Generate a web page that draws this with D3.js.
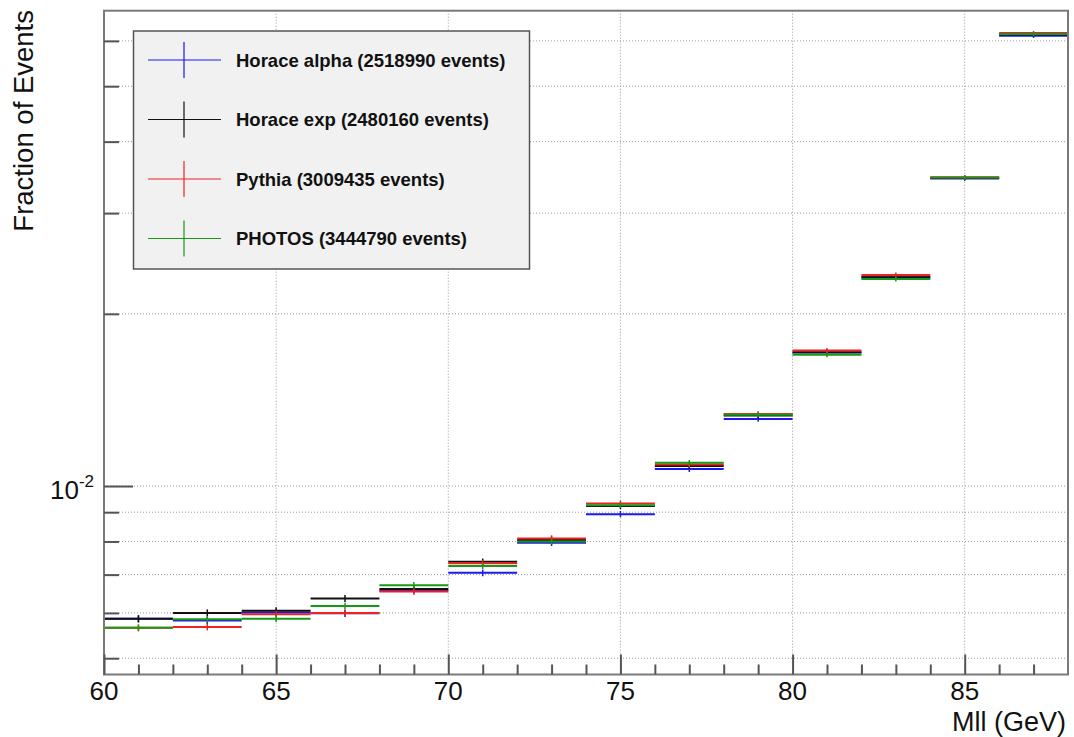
<!DOCTYPE html>
<html>
<head>
<meta charset="utf-8">
<script src="https://cdn.jsdelivr.net/npm/d3@7"></script>
<style>
  html, body { margin: 0; padding: 0; background: #fff; }
  svg { display: block; font-family: "Liberation Sans", Arial, Helvetica, sans-serif; }
</style>
</head>
<body>
<svg id="chart" width="1074" height="737"></svg>
<script>
// Dilepton invariant mass, fraction of events per 2 GeV bin
const binEdges = [60, 62, 64, 66, 68, 70, 72, 74, 76, 78, 80, 82, 84, 86, 88];

const seriesNames = ["Horace alpha", "Horace exp", "Pythia", "PHOTOS"];
const seriesEvents = [2518990, 2480160, 3009435, 3444790];
const seriesColors = ["#1a1aee", "#111111", "#ee2222", "#169a16"];

const horaceAlpha = [0.00586, 0.00582, 0.00601, 0.00599, 0.00657, 0.00705, 0.00796, 0.00893, 0.01071, 0.01310, 0.01712, 0.02318, 0.03450, 0.06126];
const horaceExp   = [0.00586, 0.00600, 0.00605, 0.00636, 0.00661, 0.00737, 0.00805, 0.00923, 0.01084, 0.01328, 0.01713, 0.02317, 0.03455, 0.06156];
const pythia      = [0.00565, 0.00567, 0.00597, 0.00600, 0.00654, 0.00733, 0.00810, 0.00932, 0.01090, 0.01336, 0.01725, 0.02338, 0.03466, 0.06194];
const photos      = [0.00565, 0.00585, 0.00586, 0.00617, 0.00671, 0.00725, 0.00800, 0.00926, 0.01098, 0.01333, 0.01697, 0.02301, 0.03462, 0.06168];
const seriesValues = [horaceAlpha, horaceExp, pythia, photos];

const xMajorTicks = [60, 65, 70, 75, 80, 85];
const xMinorTicks = d3.range(61, 88, 1).filter(v => v % 5 !== 0);
const yMajorTicks = [0.01];
const yMinorTicks = [0.005, 0.006, 0.007, 0.008, 0.009, 0.02, 0.03, 0.04, 0.05, 0.06];

const xTitle = "Mll (GeV)";
const yTitle = "Fraction of Events";

const frame = { left: 104, right: 1068, top: 10.7, bottom: 674.5 };
const svg = d3.select("#chart");

const x = d3.scaleLinear().domain([60, 88]).range([frame.left, frame.right]);
const y = d3.scaleLog().domain([0.004683, 0.06776]).range([frame.bottom, frame.top]);

// grid
const grid = svg.append("g").attr("stroke", "#9a9a9a").attr("stroke-width", 1).attr("stroke-dasharray", "1,2");
grid.selectAll("line.gx").data(xMajorTicks.filter(v => v > 60)).join("line")
  .attr("x1", d => x(d)).attr("x2", d => x(d)).attr("y1", frame.top).attr("y2", frame.bottom);
grid.selectAll("line.gy").data(yMajorTicks.concat(yMinorTicks)).join("line")
  .attr("x1", frame.left).attr("x2", frame.right).attr("y1", d => y(d)).attr("y2", d => y(d));

// histograms with statistical error bars
const bins = d3.range(binEdges.length - 1).map(i => ({ lo: binEdges[i], hi: binEdges[i + 1] }));
seriesValues.forEach((vals, s) => {
  const g = svg.append("g").attr("stroke", seriesColors[s]).attr("fill", "none");
  const rows = bins.map((b, i) => {
    const v = vals[i];
    const err = Math.sqrt(v * seriesEvents[s]) / seriesEvents[s];
    return { lo: b.lo, hi: b.hi, mid: (b.lo + b.hi) / 2, v, err };
  });
  g.selectAll("line.h").data(rows).join("line")
    .attr("stroke-width", 2)
    .attr("x1", d => x(d.lo)).attr("x2", d => x(d.hi))
    .attr("y1", d => y(d.v)).attr("y2", d => y(d.v));
  g.selectAll("line.e").data(rows).join("line")
    .attr("stroke-width", 1.5)
    .attr("x1", d => x(d.mid)).attr("x2", d => x(d.mid))
    .attr("y1", d => y(d.v + d.err) - 1.5).attr("y2", d => y(d.v - d.err) + 1.5);
});

// frame
svg.append("rect")
  .attr("x", frame.left).attr("y", frame.top)
  .attr("width", frame.right - frame.left).attr("height", frame.bottom - frame.top)
  .attr("fill", "none").attr("stroke", "#7a7a7a").attr("stroke-width", 2);

// axes (ticks drawn inward, ROOT style)
const xAxisMajor = d3.axisTop(x).tickValues(xMajorTicks).tickSize(20).tickFormat("");
const xAxisMinor = d3.axisTop(x).tickValues(xMinorTicks).tickSize(10).tickFormat("");
const yAxisMajor = d3.axisRight(y).tickValues(yMajorTicks).tickSize(29).tickFormat("");
const yAxisMinor = d3.axisRight(y).tickValues(yMinorTicks).tickSize(15).tickFormat("");

[xAxisMajor, xAxisMinor].forEach(ax => {
  const g = svg.append("g").attr("transform", `translate(0,${frame.bottom})`).call(ax);
  g.select(".domain").remove();
  g.selectAll(".tick line").attr("stroke", "#555").attr("stroke-width", 2);
});
[yAxisMajor, yAxisMinor].forEach(ax => {
  const g = svg.append("g").attr("transform", `translate(${frame.left},0)`).call(ax);
  g.select(".domain").remove();
  g.selectAll(".tick line").attr("stroke", "#555").attr("stroke-width", 2);
});

// tick labels
svg.append("g").selectAll("text").data(xMajorTicks).join("text")
  .attr("x", d => x(d)).attr("y", 700)
  .attr("text-anchor", "middle").attr("font-size", 26).attr("fill", "#111")
  .text(d => d);

yMajorTicks.forEach(v => {
  const exp = Math.round(Math.log10(v));
  const t = svg.append("text")
    .attr("x", 94).attr("y", y(v) + 13)
    .attr("text-anchor", "end").attr("font-size", 26).attr("fill", "#111");
  t.append("tspan").text("10");
  t.append("tspan").attr("font-size", 17).attr("dy", -12).text(String(exp));
});

// axis titles
svg.append("text")
  .attr("x", 1066).attr("y", 731)
  .attr("text-anchor", "end").attr("font-size", 27).attr("fill", "#111")
  .text(xTitle);
svg.append("text")
  .attr("transform", "translate(33,10) rotate(-90)")
  .attr("text-anchor", "end").attr("font-size", 27.5).attr("fill", "#111")
  .text(yTitle);

// legend
const legend = svg.append("g");
legend.append("rect")
  .attr("x", 133.5).attr("y", 31).attr("width", 396).attr("height", 238)
  .attr("fill", "#f1f1f1").attr("stroke", "#555").attr("stroke-width", 1.5);
const legendRowY = [60, 119.5, 179, 238.5];
seriesNames.forEach((name, s) => {
  const cy = legendRowY[s];
  const g = legend.append("g").attr("stroke", seriesColors[s]).attr("stroke-width", 1.2);
  g.append("line").attr("x1", 148).attr("x2", 221).attr("y1", cy).attr("y2", cy);
  g.append("line").attr("x1", 184).attr("x2", 184).attr("y1", cy - 18).attr("y2", cy + 18);
  legend.append("text")
    .attr("x", 236).attr("y", cy + 6.5)
    .attr("font-size", 18.5).attr("font-weight", "bold").attr("fill", "#111")
    .text(`${name} (${seriesEvents[s]} events)`);
});
</script>
</body>
</html>
